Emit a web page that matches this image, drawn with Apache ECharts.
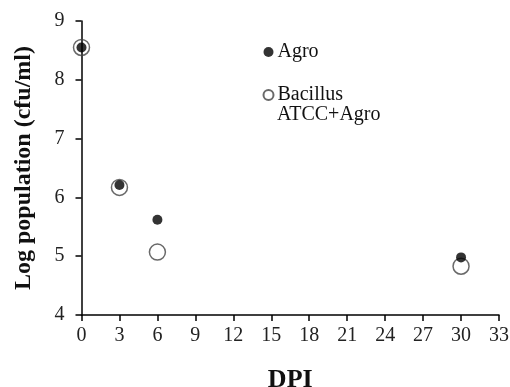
<!DOCTYPE html>
<html><head><meta charset="utf-8">
<script src="https://cdn.jsdelivr.net/npm/echarts@6/dist/echarts.min.js"></script>
<style>html,body{margin:0;padding:0;background:#fff}#c{width:510px;height:387px}</style>
</head><body><div id="c"></div>
<script>
const dpi = [0, 3, 6, 30];
const agro = [8.55, 6.21, 5.62, 4.98];
const bacillus = [8.55, 6.17, 5.07, 4.83];
const seriesNames = ['Agro', 'Bacillus'];
const legendSecondLine = 'ATCC+Agro';
const xTitle = 'DPI';
const yTitle = 'Log population (cfu/ml)';

const font = 'Liberation Serif';
const chart = echarts.init(document.getElementById('c'));
chart.setOption({
  animation: false,
  backgroundColor: '#fff',
  grid: {left: 81.5, right: 11, top: 21, bottom: 72, containLabel: false, outerBoundsMode: 'none'},
  legend: {
    orient: 'vertical', left: 262.5, top: 41, itemGap: 21,
    itemWidth: 10, itemHeight: 10, padding: 0,
    data: seriesNames,
    textStyle: {fontFamily: font, fontSize: 20, color: '#111', lineHeight: 22, padding: [0, 0, 0, -1]},
    icon: 'circle'
  },
  graphic: [{
    type: 'text', left: 277, top: 105,
    style: {text: legendSecondLine, fontFamily: font, fontSize: 20, fill: '#111'}
  }],
  xAxis: {
    type: 'value', min: 0, max: 33, interval: 3,
    name: xTitle, nameLocation: 'middle', nameGap: 52,
    nameTextStyle: {fontFamily: font, fontSize: 26, fontWeight: 'bold', color: '#111'},
    axisLine: {onZero: false, lineStyle: {color: '#000', width: 1.5}},
    axisTick: {show: true, inside: false, length: 6, lineStyle: {color: '#000', width: 1.5}},
    axisLabel: {fontFamily: font, fontSize: 20, color: '#222', margin: 11},
    splitLine: {show: false}
  },
  yAxis: {
    type: 'value', min: 4, max: 9, interval: 1,
    name: yTitle, nameLocation: 'middle', nameGap: 46,
    nameTextStyle: {fontFamily: font, fontSize: 24, fontWeight: 'bold', color: '#111'},
    axisLine: {show: true, lineStyle: {color: '#000', width: 1.5}},
    axisTick: {show: true, inside: false, length: 6, lineStyle: {color: '#000', width: 1.5}},
    axisLabel: {fontFamily: font, fontSize: 20, color: '#222', margin: 17},
    splitLine: {show: false}
  },
  series: [
    {
      name: seriesNames[1], type: 'scatter', symbol: 'circle', symbolSize: 16, z: 2,
      data: dpi.map((d, i) => [d, bacillus[i]]),
      itemStyle: {color: 'rgba(255,255,255,0)', borderColor: '#444', borderWidth: 1.5}
    },
    {
      name: seriesNames[0], type: 'scatter', symbol: 'circle', symbolSize: 10, z: 3,
      data: dpi.map((d, i) => [d, agro[i]]),
      itemStyle: {color: '#000'}
    }
  ]
});
</script></body></html>
